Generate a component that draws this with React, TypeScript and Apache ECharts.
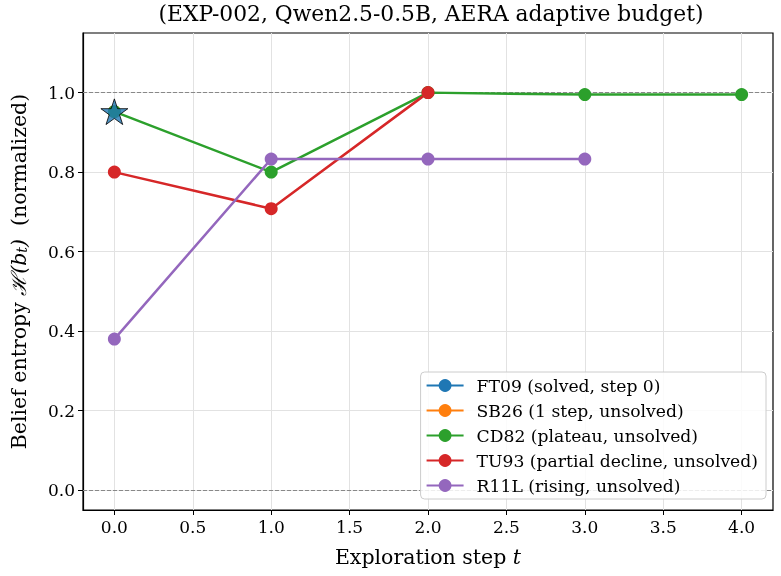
import React, { useEffect, useRef } from "react";
import * as echarts from "echarts";

const steps = [0, 1, 2, 3, 4];
const xTicks = [0, 0.5, 1, 1.5, 2, 2.5, 3, 3.5, 4];
const yTicks = [0, 0.2, 0.4, 0.6, 0.8, 1.0];

const seriesNames = [
  "FT09 (solved, step 0)",
  "SB26 (1 step, unsolved)",
  "CD82 (plateau, unsolved)",
  "TU93 (partial decline, unsolved)",
  "R11L (rising, unsolved)",
];
const colors = ["#1f77b4", "#ff7f0e", "#2ca02c", "#d62728", "#9467bd"];

const ft09 = [0.952];
const sb26 = [0.952];
const cd82 = [0.952, 0.8, 1.0, 0.995, 0.995];
const tu93 = [0.8, 0.708, 1.0];
const r11l = [0.38, 0.833, 0.833, 0.833];

const FONT = "DejaVu Serif";
const STAR =
  "path://M100,0 L122.45,69.1 L195.11,69.1 L136.33,111.8 L158.78,180.9 L100,138.2 L41.22,180.9 L63.67,111.8 L4.89,69.1 L77.55,69.1 Z";

export default function App() {
  const ref = useRef<HTMLDivElement>(null);
  useEffect(() => {
    if (!ref.current) return;
    const chart = echarts.init(ref.current, undefined, { renderer: "svg" });
    const mk = (vals: number[]) => vals.map((v, i) => [steps[i], v]);
    const lineSeries = (name: string, vals: number[], color: string, extra: any = {}) => ({
      name,
      type: "line",
      data: mk(vals),
      symbol: "circle",
      symbolSize: 13,
      showSymbol: true,
      lineStyle: { width: 2.5, color },
      itemStyle: { color },
      z: 3,
      ...extra,
    });
    chart.setOption({
      animation: false,
      textStyle: { fontFamily: FONT },
      title: {
        text: "(EXP-002, Qwen2.5-0.5B, AERA adaptive budget)",
        left: 426,
        textAlign: "center",
        top: -3,
        textStyle: { fontFamily: FONT, fontSize: 21.8, fontWeight: "normal", color: "#000" },
      },
      grid: {
        left: 80,
        right: 8,
        top: 33,
        bottom: 66,
        show: true,
        borderColor: "#000",
        borderWidth: 1.2,
        containLabel: false,
      },
      legend: {
        orient: "vertical",
        right: 15,
        bottom: 77,
        data: seriesNames,
        itemWidth: 37,
        itemHeight: 16,
        itemGap: 8,
        backgroundColor: "rgba(255,255,255,0.85)",
        borderColor: "#cccccc",
        borderWidth: 1,
        borderRadius: 4,
        padding: [5, 8, 5, 5],
        textStyle: { fontFamily: FONT, fontSize: 17.2, color: "#000", padding: [0, 0, 0, 8] },
      },
      xAxis: {
        type: "value",
        min: -0.2,
        max: 4.2,
        name: "{a|Exploration step }{i|t}",
        nameLocation: "middle",
        nameGap: 36,
        nameTextStyle: {
          rich: {
            a: { fontFamily: FONT, fontSize: 20.5, color: "#000" },
            i: { fontFamily: FONT, fontSize: 20.5, fontStyle: "italic", color: "#000" },
          },
        },
        axisLine: { show: true, onZero: false, lineStyle: { color: "#000", width: 1.2 } },
        axisTick: { show: true, customValues: xTicks, length: 5, lineStyle: { color: "#000" } },
        axisLabel: {
          customValues: xTicks,
          formatter: (v: number) => v.toFixed(1),
          fontFamily: FONT,
          fontSize: 17,
          color: "#000",
          margin: 8,
        },
        splitLine: { show: true, lineStyle: { color: "#e2e2e2", width: 1 } },
      },
      yAxis: {
        type: "value",
        min: -0.05,
        max: 1.15,
        name: "{a|Belief entropy }{i|ℋ(b}{s|t}{i|)}{a|  (normalized)}",
        nameLocation: "middle",
        nameGap: 54,
        nameTextStyle: {
          rich: {
            a: { fontFamily: FONT, fontSize: 20.5, color: "#000" },
            i: { fontFamily: FONT, fontSize: 20.5, fontStyle: "italic", color: "#000" },
            s: { fontFamily: FONT, fontSize: 14, fontStyle: "italic", color: "#000", verticalAlign: "bottom", padding: [7, 0, 0, 0] },
          },
        },
        axisLine: { show: true, onZero: false, lineStyle: { color: "#000", width: 1.2 } },
        axisTick: { show: true, customValues: yTicks, length: 5, lineStyle: { color: "#000" } },
        axisLabel: {
          customValues: yTicks,
          formatter: (v: number) => v.toFixed(1),
          fontFamily: FONT,
          fontSize: 17,
          color: "#000",
          margin: 8,
        },
        splitLine: { show: true, lineStyle: { color: "#e2e2e2", width: 1 } },
      },
      series: [
        lineSeries(seriesNames[0], [], colors[0]),
        lineSeries(seriesNames[1], sb26, colors[1]),
        lineSeries(seriesNames[2], cd82, colors[2], {
          markLine: {
            silent: true,
            symbol: "none",
            label: { show: false },
            lineStyle: { type: "dashed", color: "#888888", width: 1 },
            data: [{ yAxis: 0 }, { yAxis: 1 }],
            z: 1,
          },
        }),
        lineSeries(seriesNames[3], tu93, colors[3]),
        lineSeries(seriesNames[4], r11l, colors[4]),
        {
          name: "FT09 star",
          type: "scatter",
          data: mk(ft09),
          symbol: STAR,
          symbolSize: 27,
          symbolKeepAspect: true,
          itemStyle: { color: colors[0], borderColor: "#000", borderWidth: 1 },
          z: 10,
        },
      ],
    });
    return () => chart.dispose();
  }, []);
  return <div ref={ref} style={{ position: "fixed", left: 0, top: 0, width: 781, height: 576 }} />;
}
